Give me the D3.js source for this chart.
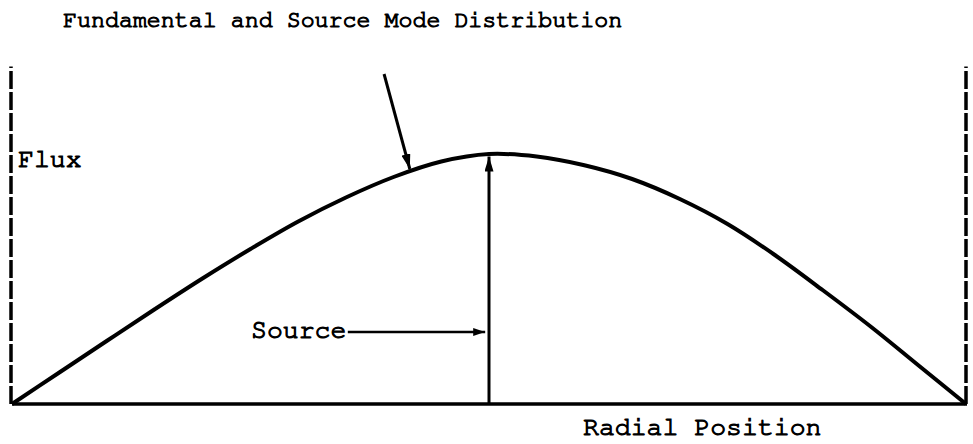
<!DOCTYPE html>
<html lang="en">
<head>
<meta charset="UTF-8">
<title>Fundamental and Source Mode Distribution</title>
<script src="https://d3js.org/d3.v7.min.js"></script>
<style>
  body { margin: 0; background: #fff; }
  text { font-family: "Nimbus Mono PS", "FreeMono", "Courier 10 Pitch", "Courier", "Liberation Mono", monospace; fill: #000; stroke: #000; stroke-width: 1.1px; }
</style>
</head>
<body>
<div id="chart"></div>
<script>
// radial position (0 = left boundary, 100 = right boundary) and relative flux
const radial = [0, 5, 10, 15, 20, 25, 30, 35, 40, 45, 50, 55, 60, 65, 70, 75, 80, 85, 90, 95, 100];
const flux   = [0, 12.7, 25.4, 38, 50.3, 62, 73, 82.6, 90.8, 97, 100, 99, 95.5, 90, 82, 72, 59.5, 45.5, 31, 15.5, 0];

const boundaries = [0, 100];
const boundaryTop = 135;
const sourcePos = 50;
const sourceFlux = 99;

const titleText = "Fundamental and Source Mode Distribution";
const yLabel = "Flux";
const xLabel = "Radial Position";
const sourceLabel = "Source";

const width = 973, height = 444;

const svg = d3.select("#chart").append("svg")
    .attr("width", width)
    .attr("height", height);

const x = d3.scaleLinear().domain([0, 100]).range([12, 966]);
const y = d3.scaleLinear().domain([0, 100]).range([404, 154]);

// arrow markers
const defs = svg.append("defs");
function marker(id, w, h) {
    defs.append("marker")
        .attr("id", id)
        .attr("viewBox", `0 0 ${w} ${h}`)
        .attr("refX", w).attr("refY", h / 2)
        .attr("markerWidth", w).attr("markerHeight", h)
        .attr("markerUnits", "userSpaceOnUse")
        .attr("orient", "auto")
        .append("path")
        .attr("d", `M0,0L${w},${h / 2}L0,${h}Z`)
        .attr("fill", "#000");
}
marker("head", 15, 9);
marker("headSmall", 12, 8);

// dashed boundaries
svg.selectAll(".bound").data(boundaries).join("line")
    .attr("class", "bound")
    .attr("x1", d => x(d) - (d === 0 ? 1 : 0)).attr("x2", d => x(d) - (d === 0 ? 1 : 0))
    .attr("y1", y(0)).attr("y2", y(boundaryTop))
    .attr("stroke", "#000").attr("stroke-width", 3.5)
    .attr("stroke-dasharray", "18,3");

// baseline
svg.append("line")
    .attr("x1", x(0)).attr("x2", x(100) + 1)
    .attr("y1", y(0)).attr("y2", y(0))
    .attr("stroke", "#000").attr("stroke-width", 3.5);

// flux curve
const pts = radial.map((r, i) => [r, flux[i]]);
svg.append("path")
    .datum(pts)
    .attr("fill", "none")
    .attr("stroke", "#000")
    .attr("stroke-width", 4)
    .attr("stroke-linejoin", "round")
    .attr("d", d3.line().x(d => x(d[0])).y(d => y(d[1])).curve(d3.curveCatmullRom));

// source arrow (vertical)
svg.append("line")
    .attr("x1", x(sourcePos)).attr("x2", x(sourcePos))
    .attr("y1", y(0)).attr("y2", y(sourceFlux))
    .attr("stroke", "#000").attr("stroke-width", 3)
    .attr("marker-end", "url(#head)");

// title pointer arrow
svg.append("line")
    .attr("x1", x(39)).attr("y1", y(132))
    .attr("x2", x(41.7)).attr("y2", y(94))
    .attr("stroke", "#000").attr("stroke-width", 3)
    .attr("marker-end", "url(#head)");

// source label arrow
svg.append("line")
    .attr("x1", x(35.2)).attr("y1", y(28.8))
    .attr("x2", x(49.6)).attr("y2", y(28.8))
    .attr("stroke", "#000").attr("stroke-width", 2.5)
    .attr("marker-end", "url(#headSmall)");

// texts
svg.append("text").attr("x", 63).attr("y", 27)
    .attr("font-size", 23.3).text(titleText);
svg.append("text").attr("x", 18).attr("y", 167)
    .attr("font-size", 26.5).text(yLabel);
svg.append("text").attr("x", 251).attr("y", 338)
    .attr("font-size", 26.5).text(sourceLabel);
svg.append("text").attr("x", 583).attr("y", 435)
    .attr("font-size", 26.5).text(xLabel);
</script>
</body>
</html>
